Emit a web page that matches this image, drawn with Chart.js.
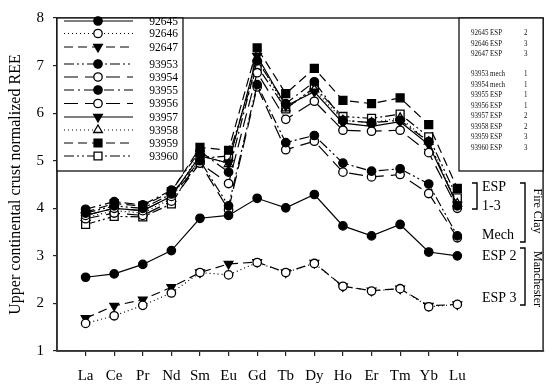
<!DOCTYPE html>
<html>
<head>
<meta charset="utf-8">
<script src="https://cdn.jsdelivr.net/npm/chart.js@4.4.1/dist/chart.umd.min.js"></script>
<style>
  html, body { margin: 0; padding: 0; background: #fff; }
  canvas { display: block; }
</style>
</head>
<body>
<canvas id="ree" width="550" height="389"></canvas>
<script>
// elements (x axis) and y ticks
const elements = ['La','Ce','Pr','Nd','Sm','Eu','Gd','Tb','Dy','Ho','Er','Tm','Yb','Lu'];
const yTicks = [1, 2, 3, 4, 5, 6, 7, 8];

// Manchester samples
const s92645 = [2.55, 2.62, 2.82, 3.11, 3.79, 3.85, 4.21, 4.01, 4.29, 3.63, 3.42, 3.66, 3.08, 3.00];
const s92646 = [1.58, 1.74, 1.96, 2.22, 2.65, 2.60, 2.86, 2.65, 2.84, 2.36, 2.26, 2.31, 1.93, 1.98];
const s92647 = [1.69, 1.95, 2.08, 2.34, 2.65, 2.83, 2.87, 2.65, 2.85, 2.36, 2.27, 2.31, 1.95, 1.98];

// Fire Clay samples
const s93953 = [3.90, 4.05, 4.00, 4.30, 5.00, 4.05, 6.60, 5.38, 5.53, 4.95, 4.78, 4.83, 4.51, 3.42];
const s93954 = [3.85, 4.00, 3.95, 4.25, 4.95, 3.97, 6.55, 5.23, 5.41, 4.76, 4.66, 4.71, 4.31, 3.38];
const s93955 = [3.98, 4.14, 4.07, 4.38, 5.20, 4.76, 7.10, 6.20, 6.66, 5.85, 5.80, 5.85, 5.40, 4.05];
const s93956 = [3.78, 3.90, 3.85, 4.15, 4.95, 4.52, 6.85, 5.87, 6.25, 5.64, 5.62, 5.64, 5.17, 4.00];
const s93957 = [3.85, 4.00, 3.95, 4.25, 5.10, 4.95, 7.20, 6.15, 6.45, 5.79, 5.72, 5.82, 5.34, 4.07];
const s93958 = [3.80, 3.95, 3.90, 4.20, 5.15, 4.93, 7.15, 6.10, 6.50, 5.85, 5.80, 5.90, 5.40, 4.10];
const s93959 = [3.92, 4.10, 4.05, 4.35, 5.28, 5.22, 7.37, 6.41, 6.94, 6.27, 6.20, 6.32, 5.76, 4.42];
const s93960 = [3.66, 3.83, 3.82, 4.09, 5.05, 5.10, 6.99, 6.09, 6.54, 5.93, 5.89, 5.98, 5.50, 4.22];

// inset table: sample, type, stage
const insetIds   = ['92645','92646','92647','93953','93954','93955','93956','93957','93958','93959','93960'];
const insetTypes = ['ESP','ESP','ESP','mech','mech','ESP','ESP','ESP','ESP','ESP','ESP'];
const insetStage = ['2','3','3','1','1','1','1','2','2','3','3'];

const FONT = '"Liberation Serif", "Times New Roman", serif';
Chart.defaults.font.family = FONT;
Chart.defaults.color = '#000';

const DOT = [1, 3], DASH = [9, 5], LONG = [14, 7], DASHDOT = [10, 4, 2, 4], DASHDOTDOT = [10, 3, 2, 3, 2, 3];

function series(label, vals, dash, style, filled, rot, r) {
    return {
        label: label,
        data: vals.map((v, i) => ({ x: i, y: v })),
        borderColor: '#000',
        borderWidth: 1.2,
        borderDash: dash,
        pointStyle: style,
        pointRotation: rot || 0,
        pointRadius: r || 4.2,
        pointBorderWidth: 1.3,
        pointBorderColor: '#000',
        pointBackgroundColor: filled ? '#000' : '#fff',
        fill: false,
        tension: 0
    };
}

const datasets = [
    series('92645', s92645, [], 'circle', true),
    series('92646', s92646, DOT, 'circle', false),
    series('92647', s92647, DASH, 'triangle', true, 180, 5),
    series('93953', s93953, DASHDOTDOT, 'circle', true),
    series('93954', s93954, LONG, 'circle', false),
    series('93955', s93955, DASHDOT, 'circle', true),
    series('93956', s93956, LONG, 'circle', false),
    series('93957', s93957, [], 'triangle', true, 180, 5),
    series('93958', s93958, DOT, 'triangle', false, 0, 5),
    series('93959', s93959, DASH, 'rect', true, 0, 5.6),
    series('93960', s93960, DASHDOTDOT, 'rect', false, 0, 5.6)
];

// marker for the hand drawn legend
function marker(ctx, ds, x, y) {
    const r = ds.pointRadius;
    ctx.save();
    ctx.setLineDash([]);
    ctx.lineWidth = ds.pointBorderWidth;
    ctx.strokeStyle = '#000';
    ctx.fillStyle = ds.pointBackgroundColor;
    ctx.beginPath();
    if (ds.pointStyle === 'circle') {
        ctx.arc(x, y, r, 0, Math.PI * 2);
    } else if (ds.pointStyle === 'rect') {
        const s = r * Math.SQRT1_2;
        ctx.rect(x - s, y - s, 2 * s, 2 * s);
    } else {
        const d = ds.pointRotation === 180 ? -1 : 1;
        ctx.moveTo(x, y - d * r);
        ctx.lineTo(x + r * 0.866, y + d * r * 0.5);
        ctx.lineTo(x - r * 0.866, y + d * r * 0.5);
        ctx.closePath();
    }
    ctx.fill();
    ctx.stroke();
    ctx.restore();
}

// narrow text for the small inset table
function narrowText(ctx, str, x, y) {
    ctx.save();
    ctx.translate(x, y);
    ctx.scale(0.82, 1);
    ctx.fillText(str, 0, 0);
    ctx.restore();
}

const extras = {
    id: 'extras',
    afterDraw(chart) {
        const ctx = chart.ctx;
        const a = chart.chartArea;
        ctx.save();
        // frame
        ctx.strokeStyle = '#333';
        ctx.lineWidth = 1.6;
        ctx.strokeRect(a.left, a.top, a.right - a.left, a.bottom - a.top);

        // legend box (left)
        ctx.lineWidth = 1.3;
        ctx.strokeStyle = '#111';
        ctx.fillStyle = '#fff';
        ctx.fillRect(a.left, a.top, 126, 153);
        ctx.strokeRect(a.left, a.top, 126, 153);
        const rows = [21, 33.5, 47, 64, 77, 90, 103.5, 117, 130, 143, 156];
        ctx.font = '11.5px ' + FONT;
        ctx.textAlign = 'right';
        ctx.textBaseline = 'middle';
        chart.data.datasets.forEach((ds, i) => {
            const y = rows[i];
            ctx.save();
            ctx.strokeStyle = '#000';
            ctx.lineWidth = 1.2;
            ctx.setLineDash(ds.borderDash);
            ctx.beginPath();
            ctx.moveTo(64, y);
            ctx.lineTo(133, y);
            ctx.stroke();
            ctx.restore();
            marker(ctx, ds, 98, y);
            ctx.fillStyle = '#000';
            ctx.fillText(ds.label, 178, y + 0.5);
        });

        // inset table (right)
        ctx.strokeStyle = '#111';
        ctx.lineWidth = 1.3;
        ctx.fillStyle = '#fff';
        ctx.fillRect(459, a.top, a.right - 459, 153);
        ctx.strokeRect(459, a.top, a.right - 459, 153);
        const iy = [33, 43.5, 54, 74, 84.5, 95, 105.5, 116, 126.5, 137, 147.5];
        ctx.fillStyle = '#111';
        ctx.textAlign = 'left';
        ctx.font = '8.5px ' + FONT;
        insetIds.forEach((id, i) => {
            narrowText(ctx, id, 471, iy[i]);
            narrowText(ctx, insetTypes[i], 490, iy[i]);
            narrowText(ctx, insetStage[i], 524, iy[i]);
        });

        // group annotations
        ctx.fillStyle = '#000';
        ctx.font = '14px ' + FONT;
        ctx.textBaseline = 'middle';
        ctx.fillText('ESP', 482, 187);
        ctx.fillText('1-3', 482, 206);
        ctx.fillText('Mech', 482, 235);
        ctx.fillText('ESP 2', 482, 256);
        ctx.fillText('ESP 3', 482, 298);

        ctx.strokeStyle = '#000';
        ctx.lineWidth = 1.4;
        const bracket = (x0, x1, y0, y1) => {
            ctx.beginPath();
            ctx.moveTo(x0, y0); ctx.lineTo(x1, y0); ctx.lineTo(x1, y1); ctx.lineTo(x0, y1);
            ctx.stroke();
        };
        bracket(472, 477, 183, 209);
        bracket(520, 525, 183, 242);
        bracket(520, 525, 248, 305);

        ctx.font = '12px ' + FONT;
        ctx.textAlign = 'center';
        ctx.save();
        ctx.translate(537, 211);
        ctx.rotate(Math.PI / 2);
        ctx.fillText('Fire Clay', 0, 0);
        ctx.restore();
        ctx.save();
        ctx.translate(537, 279);
        ctx.rotate(Math.PI / 2);
        ctx.fillText('Manchester', 0, 0);
        ctx.restore();
        ctx.restore();
    }
};

new Chart(document.getElementById('ree'), {
    type: 'line',
    data: { datasets: datasets },
    options: {
        responsive: false,
        animation: false,
        devicePixelRatio: 1,
        layout: { padding: { top: 10, right: 4, left: 0, bottom: 0 } },
        plugins: { legend: { display: false }, tooltip: { enabled: false } },
        scales: {
            x: {
                type: 'linear',
                min: -1,
                max: 16,
                afterBuildTicks: s => { s.ticks = elements.map((_, i) => ({ value: i })); },
                afterFit: s => { s.height = 38; },
                ticks: {
                    font: { size: 15 },
                    padding: 11,
                    maxRotation: 0,
                    autoSkip: false,
                    callback: v => elements[v]
                },
                grid: { drawOnChartArea: false, tickLength: 5, color: '#222', lineWidth: 1.2 },
                border: { color: '#333', width: 1.6 }
            },
            y: {
                min: 1,
                max: 8,
                afterBuildTicks: s => { s.ticks = yTicks.map(v => ({ value: v })); },
                afterFit: s => { s.width = 57; },
                ticks: { font: { size: 15 }, padding: 9 },
                grid: { drawOnChartArea: false, tickLength: 4, color: '#222', lineWidth: 1.2 },
                border: { color: '#333', width: 1.6 },
                title: {
                    display: true,
                    text: 'Upper continental crust normalized REE',
                    font: { size: 16 },
                    padding: { top: 6, bottom: 0 }
                }
            }
        }
    },
    plugins: [extras]
});
</script>
</body>
</html>
